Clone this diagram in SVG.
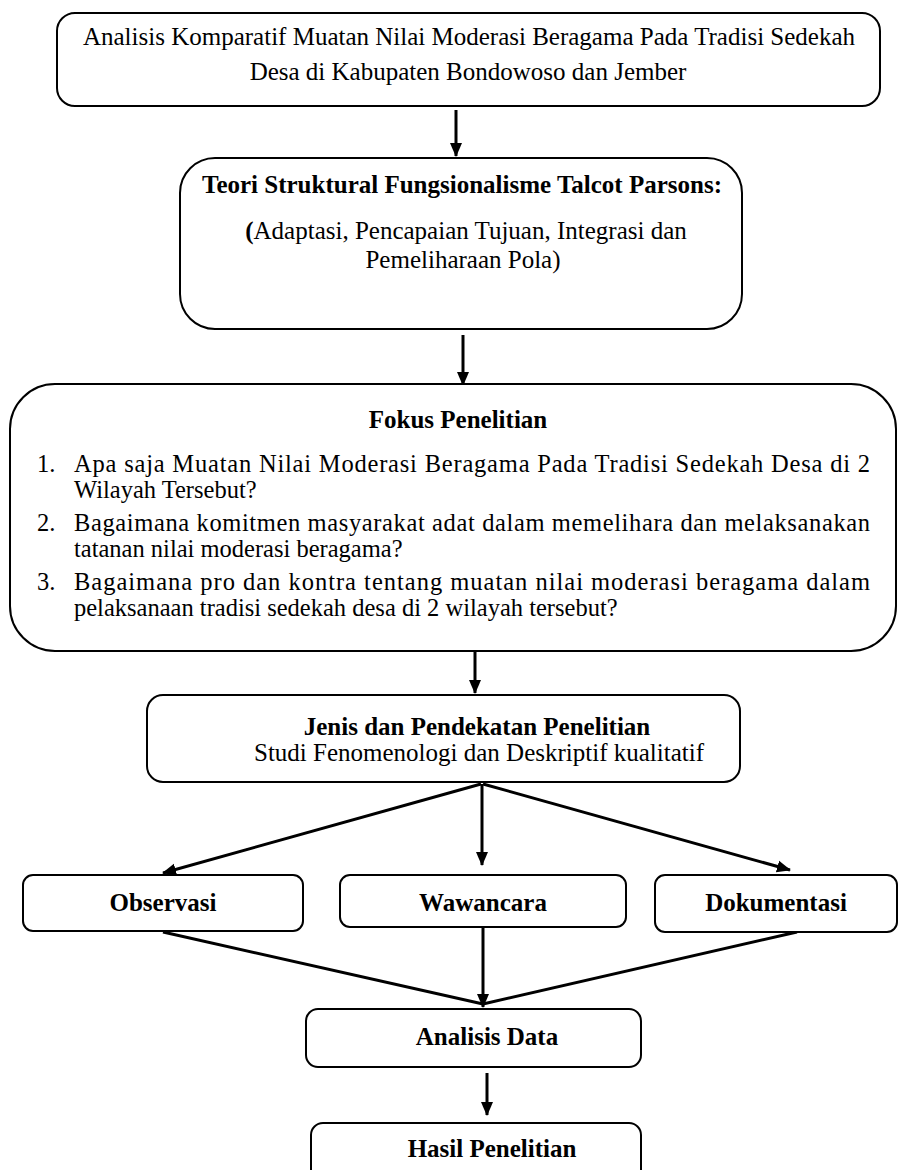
<svg xmlns="http://www.w3.org/2000/svg" width="900" height="1170" viewBox="0 0 900 1170">
<style>
.box{fill:#fff;stroke:#000;stroke-width:2}
.t{font-family:"Liberation Serif","Times New Roman",serif;font-size:25px;fill:#000}
.s{font-size:24.5px}
.b{font-weight:bold}
.c{text-anchor:middle}
.con{stroke:#000;stroke-width:3;fill:none}
</style>
<defs>
<marker id="ah" markerUnits="userSpaceOnUse" markerWidth="14" markerHeight="16" viewBox="0 0 14 16" refX="13" refY="8" orient="auto">
<path d="M0,2 L14,8 L0,14 Z" fill="#000"/>
</marker>
</defs>
<rect width="900" height="1170" fill="#fff"/>

<g id="connectors">
<line class="con" x1="456" y1="110" x2="456" y2="156" marker-end="url(#ah)"/>
<line class="con" x1="463" y1="335" x2="463" y2="385" marker-end="url(#ah)"/>
<line class="con" x1="475" y1="652" x2="475" y2="693" marker-end="url(#ah)"/>
<line class="con" x1="481" y1="784" x2="163" y2="873" marker-end="url(#ah)"/>
<line class="con" x1="482" y1="784" x2="482" y2="865" marker-end="url(#ah)"/>
<line class="con" x1="483" y1="784" x2="790" y2="870" marker-end="url(#ah)"/>
<line class="con" x1="163" y1="932" x2="483" y2="1004"/>
<line class="con" x1="797" y1="932" x2="483" y2="1004"/>
<line class="con" x1="483" y1="928" x2="483" y2="1007" marker-end="url(#ah)"/>
<line class="con" x1="487" y1="1073" x2="487" y2="1115" marker-end="url(#ah)"/>
</g>

<g id="judul">
<rect class="box" x="57" y="13" width="823" height="93" rx="18"/>
<text class="t c" x="469" y="45">Analisis Komparatif Muatan Nilai Moderasi Beragama Pada Tradisi Sedekah</text>
<text class="t c" x="468" y="80">Desa di Kabupaten Bondowoso dan Jember</text>
</g>

<g id="teori">
<rect class="box" x="180" y="158" width="562" height="171" rx="35"/>
<text class="t b c" x="462" y="193">Teori Struktural Fungsionalisme Talcot Parsons:</text>
<text class="t c" x="466" y="239"><tspan font-weight="bold">(</tspan>Adaptasi, Pencapaian Tujuan, Integrasi dan</text>
<text class="t c" x="463" y="268">Pemeliharaan Pola)</text>
</g>

<g id="fokus">
<rect class="box" x="10" y="384" width="886" height="267" rx="45"/>
<text class="t b c" x="458" y="428">Fokus Penelitian</text>
<text class="t s" x="37" y="472">1.</text>
<text class="t s" x="74" y="472" textLength="796" lengthAdjust="spacing">Apa saja Muatan Nilai Moderasi Beragama Pada Tradisi Sedekah Desa di 2</text>
<text class="t s" x="74" y="498">Wilayah Tersebut?</text>
<text class="t s" x="37" y="531">2.</text>
<text class="t s" x="74" y="531" textLength="796" lengthAdjust="spacing">Bagaimana komitmen masyarakat adat dalam memelihara dan melaksanakan</text>
<text class="t s" x="74" y="557">tatanan nilai moderasi beragama?</text>
<text class="t s" x="37" y="590">3.</text>
<text class="t s" x="74" y="590" textLength="796" lengthAdjust="spacing">Bagaimana pro dan kontra tentang muatan nilai moderasi beragama dalam</text>
<text class="t s" x="74" y="616">pelaksanaan tradisi sedekah desa di 2 wilayah tersebut?</text>
</g>

<g id="jenis">
<rect class="box" x="147" y="695" width="593" height="87" rx="16"/>
<text class="t b c" x="477" y="735">Jenis dan Pendekatan Penelitian</text>
<text class="t c" x="479" y="761">Studi Fenomenologi dan Deskriptif kualitatif</text>
</g>

<g id="observasi">
<rect class="box" x="23" y="875" width="280" height="56" rx="10"/>
<text class="t b c" x="163" y="911">Observasi</text>
</g>

<g id="wawancara">
<rect class="box" x="340" y="875" width="286" height="52" rx="10"/>
<text class="t b c" x="483" y="911">Wawancara</text>
</g>

<g id="dokumentasi">
<rect class="box" x="655" y="875" width="242" height="57" rx="10"/>
<text class="t b c" x="776" y="911">Dokumentasi</text>
</g>

<g id="analisis">
<rect class="box" x="306" y="1009" width="335" height="58" rx="12"/>
<text class="t b c" x="487" y="1045">Analisis Data</text>
</g>

<g id="hasil">
<rect class="box" x="311" y="1123" width="330" height="60" rx="12"/>
<text class="t b c" x="492" y="1157">Hasil Penelitian</text>
</g>
</svg>
